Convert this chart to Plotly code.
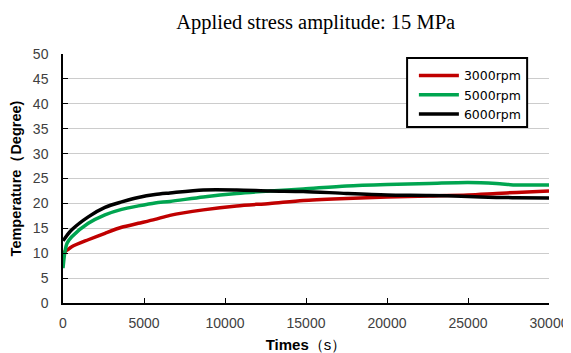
import plotly.graph_objects as go

time_s = [0, 120, 250, 540, 1560, 2590, 3620, 4650, 5680, 6600, 8660, 10720, 12780, 14830,
          17500, 20000, 22600, 25000, 26750, 28000, 30000]
rpm3000 = [10.0, 10.3, 10.6, 11.3, 12.7, 14.0, 15.2, 16.0, 16.8, 17.6, 18.7, 19.5, 20.0, 20.6,
           21.0, 21.3, 21.5, 21.7, 22.0, 22.2, 22.5]
rpm5000 = [7.0, 10.3, 12.0, 13.3, 16.0, 17.7, 18.8, 19.5, 20.1, 20.4, 21.3, 22.0, 22.5, 22.9,
           23.5, 23.8, 24.0, 24.2, 24.0, 23.7, 23.7]
rpm6000 = [12.5, 13.0, 13.6, 14.7, 17.3, 19.2, 20.3, 21.2, 21.8, 22.1, 22.7, 22.7, 22.5, 22.4,
           22.0, 21.7, 21.6, 21.4, 21.2, 21.15, 21.1]

x_ticks = [0, 5000, 10000, 15000, 20000, 25000, 30000]
y_ticks = [0, 5, 10, 15, 20, 25, 30, 35, 40, 45, 50]

series = [("3000rpm", rpm3000, "#c00000"), ("5000rpm", rpm5000, "#00a550"), ("6000rpm", rpm6000, "#000000")]

fig = go.Figure()
for name, vals, col in series:
    fig.add_trace(go.Scatter(x=time_s, y=vals, mode="lines", name=name,
                             line=dict(color=col, width=3.5, shape="spline", smoothing=0.8)))

sans = "Liberation Sans, Arial, sans-serif"
tick_font = dict(family=sans, size=14, color="#404040")

# legend frame
fig.add_shape(type="rect", xref="paper", yref="paper", x0=0.708, x1=0.955, y0=0.707, y1=0.984,
              line=dict(color="black", width=2), fillcolor="white", layer="above")

fig.update_layout(
    width=563, height=345,
    margin=dict(l=55, r=22, t=46, b=50, autoexpand=False),
    paper_bgcolor="white", plot_bgcolor="white",
    title=dict(text="Applied stress amplitude: 15 MPa", xref="paper", x=0.52, xanchor="center",
               yref="container", y=0.959, yanchor="middle",
               font=dict(family="Liberation Serif, Times New Roman, serif", size=20.5, color="#000000")),
    xaxis=dict(range=[0, 30000], tickvals=x_ticks, ticktext=[str(v) for v in x_ticks],
               showgrid=False, showline=True, linecolor="black", linewidth=1.5,
               ticks="inside", ticklen=5, tickcolor="black", tickfont=tick_font, zeroline=False,
               automargin=False, ticklabelstandoff=6,
               title=dict(text="<b>Times</b>（s）", font=dict(family=sans, size=15, color="#000000"), standoff=10)),
    yaxis=dict(range=[0, 50], tickvals=y_ticks, ticktext=[str(v) for v in y_ticks],
               showgrid=True, gridcolor="#cccccc", gridwidth=1,
               showline=True, linecolor="black", linewidth=1.5,
               ticks="inside", ticklen=5, tickcolor="black", tickfont=tick_font, zeroline=False,
               automargin=False, ticklabelstandoff=10,
               title=dict(text="<b>Temperature（Degree)</b>", font=dict(family=sans, size=14.5, color="#000000"), standoff=9)),
    legend=dict(x=0.722, y=0.972, xanchor="left", yanchor="top", bgcolor="rgba(0,0,0,0)",
                borderwidth=0,
                font=dict(family="DejaVu Sans, sans-serif", size=12.5, color="#000000"),
                tracegroupgap=0, itemwidth=40),
    showlegend=True,
)

fig.write_html("out.html")
